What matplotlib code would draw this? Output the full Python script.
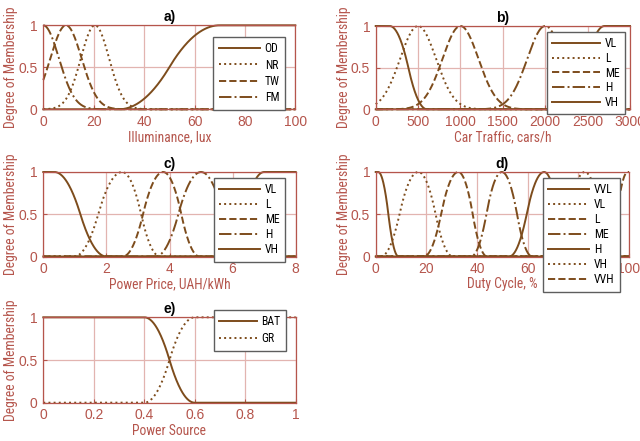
import numpy as np
import matplotlib
matplotlib.use("Agg")
import matplotlib.pyplot as plt
from matplotlib import font_manager

# a) Illuminance, lux
illum_names = ["OD", "NR", "TW", "FM"]
illum_kinds = ["smf", "gaussmf", "gaussmf", "gaussmf"]
illum_params = [(30, 70), (20.5, 5.6), (9, 6.2), (0, 6.2)]
illum_ticks = [0, 20, 40, 60, 80, 100]

# b) Car Traffic, cars/h
traffic_names = ["VL", "L", "ME", "H", "VH"]
traffic_kinds = ["zmf", "gaussmf", "gaussmf", "gaussmf", "smf"]
traffic_params = [(165, 605), (500, 212), (1000, 212), (2000, 212), (2250, 2700)]
traffic_ticks = [0, 500, 1000, 1500, 2000, 2500, 3000]

# c) Power Price, UAH/kWh
price_names = ["VL", "L", "ME", "H", "VH"]
price_kinds = ["zmf", "pimf", "pimf", "pimf", "smf"]
price_params = [(0.35, 2.0), (0.98, 2.5, 3.7), (2.52, 3.8, 4.95),
                (3.56, 5.0, 6.4), (5.7, 7.0)]
price_ticks = [0, 2, 4, 6, 8]

# d) Duty Cycle, %
duty_names = ["VVL", "VL", "L", "ME", "H", "VH", "VVH"]
duty_kinds = ["zmf", "pimf", "pimf", "pimf", "pimf", "pimf", "smf"]
duty_params = [(1, 9), (2, 16.8, 30.5), (19, 32.6, 44), (37.6, 49.8, 61.8),
               (52.7, 66.5, 78), (70, 82.5, 95), (91, 99.5)]
duty_ticks = [0, 20, 40, 60, 80, 100]

# e) Power Source
source_names = ["BAT", "GR"]
source_kinds = ["zmf", "smf"]
source_params = [(0.4, 0.6), (0.4, 0.6)]
source_ticks = [0, 0.2, 0.4, 0.6, 0.8, 1]

y_ticks = [0, 0.5, 1]
y_ticklabels = ["0", "0.5", "1"]


def smf(x, a, b):
    m = (a + b) / 2
    y = np.where(x <= a, 0.0, 1.0)
    y = np.where((x > a) & (x <= m), 2 * ((x - a) / (b - a)) ** 2, y)
    y = np.where((x > m) & (x < b), 1 - 2 * ((x - b) / (b - a)) ** 2, y)
    return y


def zmf(x, a, b):
    return 1 - smf(x, a, b)


def pimf(x, a, b, c):
    return np.where(x <= b, smf(x, a, b), zmf(x, b, c))


def gaussmf(x, c, s):
    return np.exp(-(x - c) ** 2 / (2 * s ** 2))


MF = {"smf": smf, "zmf": zmf, "pimf": pimf, "gaussmf": gaussmf}


def pick_narrow():
    """Find a condensed sans font, else fall back to a smaller regular one."""
    entries = font_manager.fontManager.ttflist
    names = {f.name for f in entries}
    for n in ["Liberation Sans Narrow", "Arial Narrow", "Roboto Condensed",
              "Open Sans Condensed", "DejaVu Sans Condensed"]:
        if n in names:
            return {"family": n}, 9.8, 8.5
    for f in entries:
        if str(f.stretch) in ("condensed", "semi-condensed") and \
                f.name in ("DejaVu Sans", "Noto Sans", "Open Sans", "Roboto"):
            return {"family": f.name, "stretch": f.stretch}, 9.8, 8.5
    return {"family": "Liberation Sans"}, 8.6, 8


NARROW, LABEL_SIZE, LEG_SIZE = pick_narrow()
plt.rcParams["font.family"] = ["Liberation Sans", "DejaVu Sans"]

CURVE = "#7d4c1c"
AXC = "#b5554c"
GRID = "#e2b4b0"
W, H = 640, 441

fig = plt.figure(figsize=(6.4, 4.41), dpi=100)


def panel(rect_px, title, xlabel, names, kinds, params, ticks, styles,
          leg_px, labelspacing, handlelength=3.5):
    x0, y0, x1, y1 = rect_px
    ax = fig.add_axes([x0 / W, 1 - y1 / H, (x1 - x0) / W, (y1 - y0) / H])
    xmin, xmax = ticks[0], ticks[-1]
    xs = np.linspace(xmin, xmax, 600)
    for name, kind, p, ls in zip(names, kinds, params, styles):
        ax.plot(xs, MF[kind](xs, *p), color=CURVE, lw=1.4, ls=ls,
                label=name, clip_on=False)
    ax.set_xlim(xmin, xmax)
    ax.set_ylim(0, 1)
    ax.set_xticks(ticks)
    ax.set_xticklabels([("%g" % t) for t in ticks])
    ax.set_yticks(y_ticks)
    ax.set_yticklabels(y_ticklabels)
    ax.grid(True, color=GRID, lw=0.9)
    ax.set_axisbelow(True)
    for sp in ax.spines.values():
        sp.set_color(AXC)
        sp.set_linewidth(0.9)
    ax.tick_params(direction="in", length=3, colors=AXC, labelsize=10,
                   pad=4)
    ax.set_title(title, fontsize=10, fontweight="bold", color="black", pad=3)
    ax.set_xlabel(xlabel, color=AXC, fontsize=LABEL_SIZE, labelpad=1,
                  **NARROW)
    ax.set_ylabel("Degree of Membership", color=AXC, fontsize=LABEL_SIZE,
                  labelpad=0, **NARROW)
    lx, ly = leg_px
    prop = dict(NARROW)
    prop["size"] = LEG_SIZE
    leg = ax.legend(loc="upper right", bbox_to_anchor=(lx / W, 1 - ly / H),
                    bbox_transform=fig.transFigure, borderaxespad=0,
                    fancybox=False, framealpha=1, edgecolor="#5e5e5e",
                    handlelength=handlelength, handletextpad=0.4,
                    borderpad=0.45, labelspacing=labelspacing, prop=prop)
    leg.get_frame().set_linewidth(1.0)
    leg.set_zorder(10)
    return ax


panel((43.3, 25.3, 295.3, 109.3), "a)", "Illuminance, lux",
      illum_names, illum_kinds, illum_params, illum_ticks,
      ["-", ":", "--", "-."], (285, 37), 0.28)
panel((375.7, 26, 630, 109.3), "b)", "Car Traffic, cars/h",
      traffic_names, traffic_kinds, traffic_params, traffic_ticks,
      ["-", ":", "--", "-.", "-"], (625, 32), 0.14, 4.1)
panel((43.3, 172, 295.7, 256.5), "c)", "Power Price, UAH/kWh",
      price_names, price_kinds, price_params, price_ticks,
      ["-", ":", "--", "-.", "-"], (285, 178), 0.17)
panel((375.7, 172, 629, 256.5), "d)", "Duty Cycle, %",
      duty_names, duty_kinds, duty_params, duty_ticks,
      ["-", ":", "--", "-.", "-", ":", "--"], (620, 178), 0.17)
panel((43.3, 317.3, 295.7, 402.7), "e)", "Power Source",
      source_names, source_kinds, source_params, source_ticks,
      ["-", ":"], (286, 310), 0.33, 3.2)

fig.savefig("out.png", dpi=100)
